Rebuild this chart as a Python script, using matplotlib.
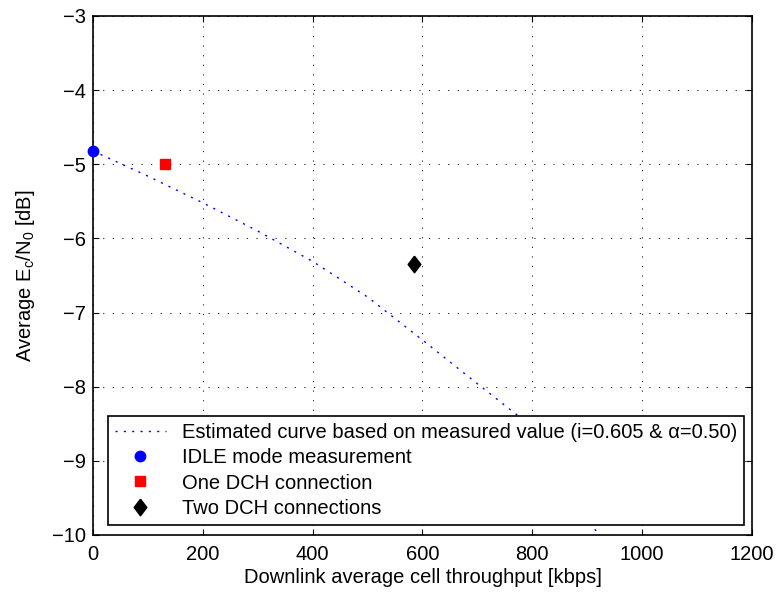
import matplotlib.pyplot as plt
import numpy as np

plt.rcParams['font.family'] = ['Liberation Sans', 'DejaVu Sans']
plt.rcParams['mathtext.default'] = 'regular'

# estimated curve
curve_x = [0, 100, 200, 300, 400, 500, 600, 700, 772, 800, 850, 880, 910, 921, 935]
curve_y = [-4.82, -5.16, -5.52, -5.90, -6.31, -6.79, -7.37, -7.96, -8.38, -8.58,
           -9.00, -9.35, -9.88, -10.0, -10.15]

# measurements
idle_x, idle_y = [0], [-4.82]
one_dch_x, one_dch_y = [132], [-5.0]
two_dch_x, two_dch_y = [585], [-6.35]

x_ticks = [0, 200, 400, 600, 800, 1000, 1200]
y_ticks = [-10, -9, -8, -7, -6, -5, -4, -3]

fig = plt.figure(figsize=(7.78, 5.92), dpi=100)
ax = fig.add_axes([0.1195, 0.0963, 0.847, 0.8767])

# tall diamond like the matlab one
diamond = [(0, 1), (0.76, 0), (0, -1), (-0.76, 0), (0, 1)]

ax.plot(curve_x, curve_y, color='blue', linestyle=(0, (1.5, 4.5)), linewidth=1.0,
        label='Estimated curve based on measured value (i=0.605 & α=0.50)')
ax.plot(idle_x, idle_y, 'o', color='blue', markersize=7.5, clip_on=False,
        label='IDLE mode measurement', zorder=5)
ax.plot(one_dch_x, one_dch_y, 's', color='red', markersize=7.5,
        label='One DCH connection', zorder=5)
ax.plot(two_dch_x, two_dch_y, marker=diamond, linestyle='none', color='black',
        markersize=12, label='Two DCH connections', zorder=5)

ax.set_xlim(0, 1200)
ax.set_ylim(-10, -3)
ax.set_xticks(x_ticks)
ax.set_yticks(y_ticks)
ax.tick_params(direction='in', top=True, right=True, labelsize=14.5, length=4, pad=5)
ax.tick_params(axis='x', pad=7)
ax.grid(True, color='black', linestyle=(0, (1.5, 10)), linewidth=0.6)
for s in ax.spines.values():
    s.set_linewidth(1.2)

ax.set_xlabel('Downlink average cell throughput [kbps]', fontsize=14.5, labelpad=3)
ax.set_ylabel('Average E$_c$/N$_0$ [dB]', fontsize=14.5, labelpad=11)

leg = ax.legend(loc='lower right', bbox_to_anchor=(0.988, 0.02), fontsize=14.5,
                frameon=True, fancybox=False, edgecolor='black', framealpha=1,
                borderaxespad=0, handlelength=2.5, handletextpad=0.8,
                labelspacing=0.3, borderpad=0.35)
leg.get_frame().set_linewidth(1.2)
leg.set_zorder(10)

fig.savefig('out.png', dpi=100)
